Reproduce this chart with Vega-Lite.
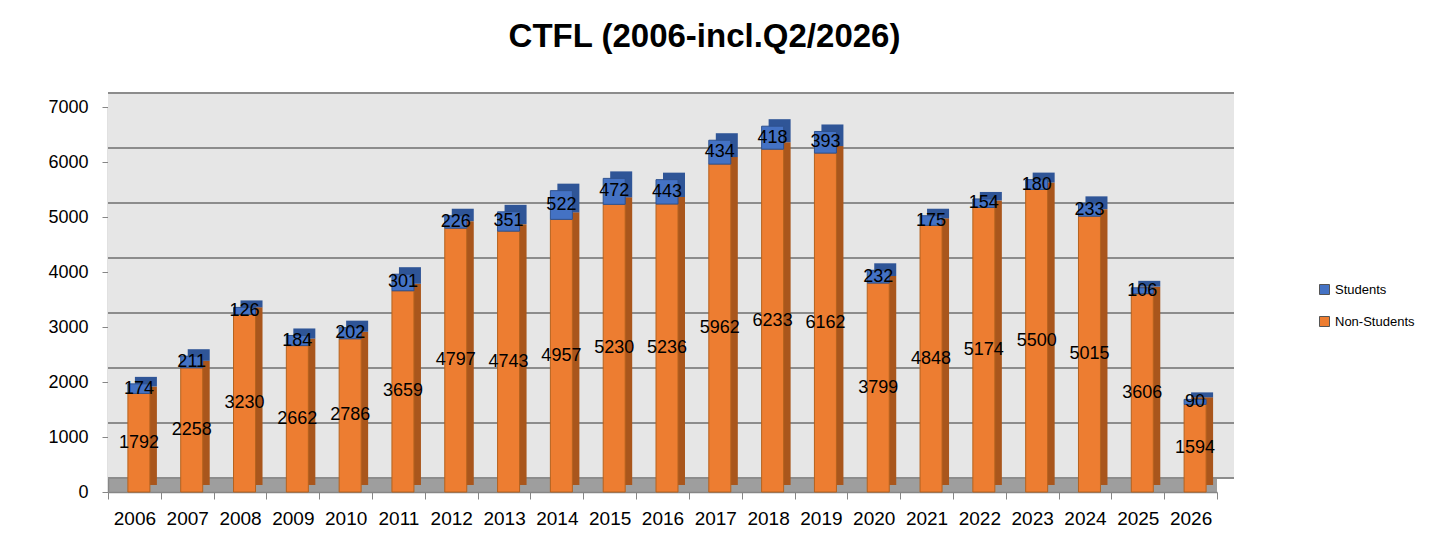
{
  "$schema": "https://vega.github.io/schema/vega-lite/v6.json",
  "width": 1109,
  "height": 385,
  "autosize": {"type": "none"},
  "padding": {"left": 108, "top": 107, "right": 217, "bottom": 56},
  "background": "white",
  "view": {"fill": "#9E9E9E", "stroke": null},
  "config": {"font": "Liberation Sans"},
  "title": {
    "text": "CTFL (2006-incl.Q2/2026)",
    "fontSize": 33,
    "fontWeight": "bold",
    "color": "#000000",
    "frame": "group",
    "anchor": "middle",
    "dx": 42,
    "offset": 38
  },
  "datasets": {
    "ctfl": [
      {"year": "2006", "group": "Non-Students", "n": 1792}, {"year": "2006", "group": "Students", "n": 174},
      {"year": "2007", "group": "Non-Students", "n": 2258}, {"year": "2007", "group": "Students", "n": 211},
      {"year": "2008", "group": "Non-Students", "n": 3230}, {"year": "2008", "group": "Students", "n": 126},
      {"year": "2009", "group": "Non-Students", "n": 2662}, {"year": "2009", "group": "Students", "n": 184},
      {"year": "2010", "group": "Non-Students", "n": 2786}, {"year": "2010", "group": "Students", "n": 202},
      {"year": "2011", "group": "Non-Students", "n": 3659}, {"year": "2011", "group": "Students", "n": 301},
      {"year": "2012", "group": "Non-Students", "n": 4797}, {"year": "2012", "group": "Students", "n": 226},
      {"year": "2013", "group": "Non-Students", "n": 4743}, {"year": "2013", "group": "Students", "n": 351},
      {"year": "2014", "group": "Non-Students", "n": 4957}, {"year": "2014", "group": "Students", "n": 522},
      {"year": "2015", "group": "Non-Students", "n": 5230}, {"year": "2015", "group": "Students", "n": 472},
      {"year": "2016", "group": "Non-Students", "n": 5236}, {"year": "2016", "group": "Students", "n": 443},
      {"year": "2017", "group": "Non-Students", "n": 5962}, {"year": "2017", "group": "Students", "n": 434},
      {"year": "2018", "group": "Non-Students", "n": 6233}, {"year": "2018", "group": "Students", "n": 418},
      {"year": "2019", "group": "Non-Students", "n": 6162}, {"year": "2019", "group": "Students", "n": 393},
      {"year": "2020", "group": "Non-Students", "n": 3799}, {"year": "2020", "group": "Students", "n": 232},
      {"year": "2021", "group": "Non-Students", "n": 4848}, {"year": "2021", "group": "Students", "n": 175},
      {"year": "2022", "group": "Non-Students", "n": 5174}, {"year": "2022", "group": "Students", "n": 154},
      {"year": "2023", "group": "Non-Students", "n": 5500}, {"year": "2023", "group": "Students", "n": 180},
      {"year": "2024", "group": "Non-Students", "n": 5015}, {"year": "2024", "group": "Students", "n": 233},
      {"year": "2025", "group": "Non-Students", "n": 3606}, {"year": "2025", "group": "Students", "n": 106},
      {"year": "2026", "group": "Non-Students", "n": 1594}, {"year": "2026", "group": "Students", "n": 90}
    ],
    "gridlines": [
      {"v": 0}, {"v": 1000}, {"v": 2000}, {"v": 3000}, {"v": 4000}, {"v": 5000}, {"v": 6000}, {"v": 7000}
    ]
  },
  "layer": [
    {
      "data": {"values": [{}]},
      "mark": {"type": "rect", "fill": "#E6E6E6", "xOffset": 17, "x2Offset": 17, "yOffset": -14, "y2Offset": -14},
      "encoding": {
        "y": {"datum": 0, "type": "quantitative"},
        "y2": {"datum": 7000}
      }
    },
    {
      "data": {"name": "gridlines"},
      "mark": {"type": "rule", "color": "#8C8C8C", "strokeWidth": 2, "xOffset": 17, "x2Offset": 17, "yOffset": -14},
      "encoding": {
        "y": {"field": "v", "type": "quantitative"}
      }
    },
    {
      "data": {"name": "ctfl"},
      "transform": [
        {"stack": "n", "groupby": ["year"], "sort": [{"field": "group", "order": "ascending"}], "as": ["y0", "y1"]}
      ],
      "mark": {"type": "bar", "width": 22, "xOffset": 11.5, "yOffset": -7, "y2Offset": -7},
      "encoding": {
        "x": {"field": "year", "type": "nominal"},
        "y": {"field": "y0", "type": "quantitative"},
        "y2": {"field": "y1"},
        "color": {"condition": {"test": "datum.group === 'Students'", "value": "#2F5597"}, "value": "#A9561C"}
      }
    },
    {
      "data": {"name": "ctfl"},
      "transform": [
        {"stack": "n", "groupby": ["year"], "sort": [{"field": "group", "order": "ascending"}], "as": ["y0", "y1"]}
      ],
      "mark": {"type": "bar", "width": 22, "xOffset": 4.5, "strokeWidth": 1},
      "encoding": {
        "x": {
          "field": "year",
          "type": "nominal",
          "scale": {"type": "band", "paddingInner": 0, "paddingOuter": 0},
          "axis": {
            "title": null,
            "labelAngle": 0,
            "labelAlign": "center",
            "labelFontSize": 19,
            "labelColor": "#000000",
            "labelPadding": 19,
            "domainColor": "#868686",
            "domainWidth": 1.5,
            "tickColor": "#868686",
            "tickSize": 7,
            "tickBand": "extent",
            "grid": false
          }
        },
        "y": {
          "field": "y0",
          "type": "quantitative",
          "scale": {"domain": [0, 7000], "nice": false},
          "axis": {
            "title": null,
            "values": [0, 1000, 2000, 3000, 4000, 5000, 6000, 7000],
            "format": "d",
            "grid": false,
            "labelFontSize": 18,
            "labelColor": "#000000",
            "labelPadding": 14,
            "domainColor": "#868686",
            "domainWidth": 1.5,
            "tickColor": "#868686",
            "tickSize": 6
          }
        },
        "y2": {"field": "y1"},
        "color": {
          "field": "group",
          "type": "nominal",
          "scale": {"domain": ["Students", "Non-Students"], "range": ["#4472C4", "#ED7D31"]},
          "legend": {
            "title": null,
            "orient": "none",
            "legendX": 1210,
            "legendY": 176,
            "labelFontSize": 13,
            "labelColor": "#000000",
            "symbolType": "square",
            "symbolSize": 100,
            "symbolStrokeWidth": 1,
            "symbolStrokeColor": "#555555",
            "rowPadding": 17,
            "labelOffset": 4
          }
        },
        "stroke": {"condition": {"test": "datum.group === 'Students'", "value": "#2F528F"}, "value": "#B5621E"}
      }
    },
    {
      "data": {"name": "ctfl"},
      "transform": [
        {"stack": "n", "groupby": ["year"], "sort": [{"field": "group", "order": "ascending"}], "as": ["y0", "y1"]},
        {"calculate": "(datum.y0 + datum.y1) / 2", "as": "ymid"}
      ],
      "mark": {"type": "text", "fontSize": 18, "color": "#000000", "align": "center", "baseline": "middle", "xOffset": 4.5},
      "encoding": {
        "x": {"field": "year", "type": "nominal"},
        "y": {"field": "ymid", "type": "quantitative"},
        "text": {"field": "n", "type": "quantitative"}
      }
    }
  ]
}
